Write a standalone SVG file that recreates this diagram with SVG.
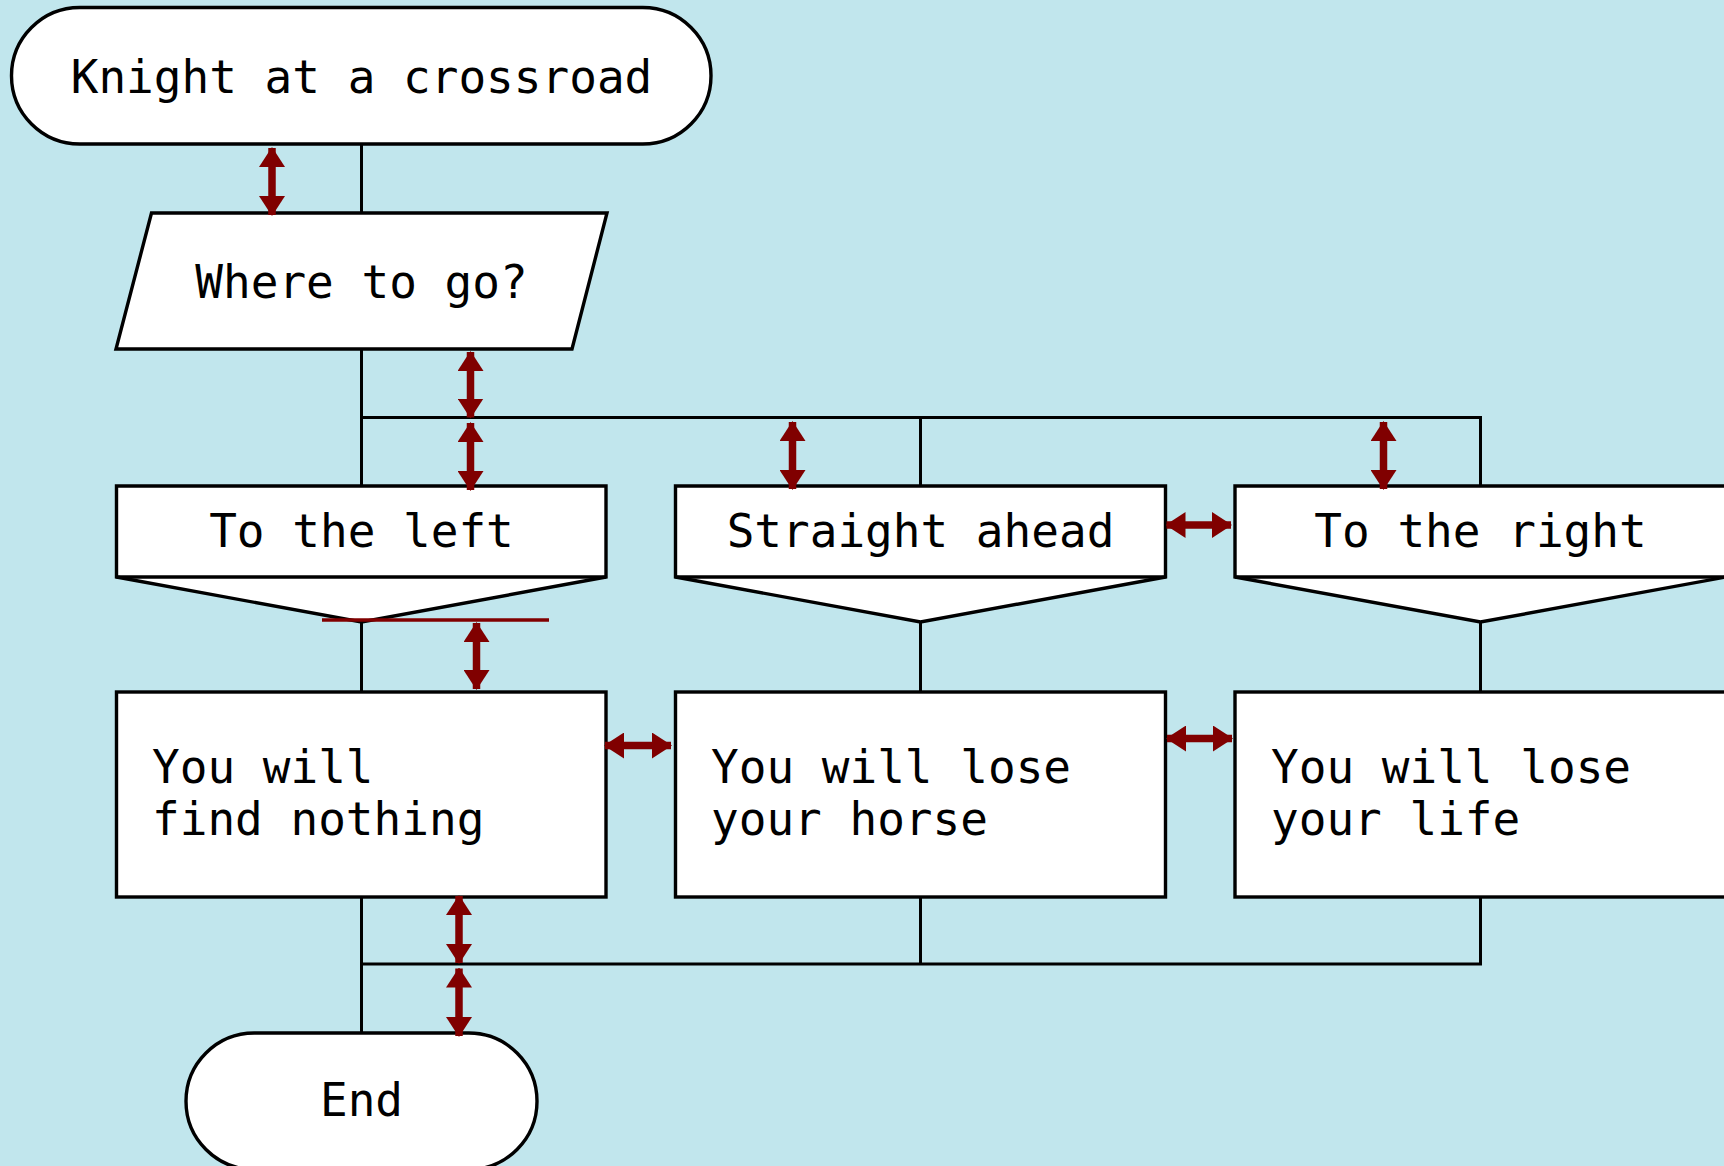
<svg xmlns="http://www.w3.org/2000/svg" width="1724" height="1166" viewBox="0 0 1724 1166">
<style>
.shape{fill:#ffffff;stroke:#000000;stroke-width:3.4;stroke-linejoin:miter}
.txt{font-family:"DejaVu Sans Mono","Liberation Mono",monospace;font-size:46px;fill:#000000}
.mid{text-anchor:middle}
.conn{fill:none;stroke:#000000;stroke-width:3}
.arr{fill:none;stroke:#800000;stroke-width:7.5;marker-start:url(#ah);marker-end:url(#ah)}
.redline{fill:none;stroke:#800000;stroke-width:3.4}
</style>
<defs>
<marker id="ah" viewBox="0 0 20 26" markerWidth="20" markerHeight="26" markerUnits="userSpaceOnUse" refX="19" refY="13" orient="auto-start-reverse">
<path d="M0,0 L20,13 L0,26 z" fill="#800000"/>
</marker>
</defs>
<rect x="0" y="0" width="1724" height="1166" fill="#c1e6ed"/>

<g id="connectors">
<path class="conn" d="M361.5,144 V213"/>
<path class="conn" d="M361.5,349 V486"/>
<path class="conn" d="M361.5,417.5 H1480.5 V486"/>
<path class="conn" d="M920.5,417.5 V486"/>
<path class="conn" d="M361.5,622 V692"/>
<path class="conn" d="M920.5,622 V692"/>
<path class="conn" d="M1480.5,622 V692"/>
<path class="conn" d="M361.5,897 V1033"/>
<path class="conn" d="M361.5,964 H1480.5 V897"/>
<path class="conn" d="M920.5,897 V964"/>
</g>

<g id="start">
<rect class="shape" x="11.5" y="7.5" width="699.5" height="136.5" rx="68.25" ry="68.25"/>
<text class="txt mid" x="361.5" y="93">Knight at a crossroad</text>
</g>

<g id="question">
<polygon class="shape" points="151.5,213 607,213 572,349 116,349"/>
<text class="txt mid" x="361.5" y="298">Where to go?</text>
</g>

<g id="case-left">
<path class="shape" d="M116.5,486 H606 V577 L361.5,622 L116.5,577 Z"/>
<path class="shape" d="M116.5,577 H606"/>
<text class="txt mid" x="361.5" y="547">To the left</text>
</g>

<g id="case-straight">
<path class="shape" d="M675.5,486 H1165.5 V577 L920.5,622 L675.5,577 Z"/>
<path class="shape" d="M675.5,577 H1165.5"/>
<text class="txt mid" x="920.5" y="547">Straight ahead</text>
</g>

<g id="case-right">
<path class="shape" d="M1235,486 H1726 V577 L1480.5,622 L1235,577 Z"/>
<path class="shape" d="M1235,577 H1726"/>
<text class="txt mid" x="1480.5" y="547">To the right</text>
</g>

<g id="action-left">
<rect class="shape" x="116.5" y="692" width="489.5" height="205"/>
<text class="txt" x="152" y="783">You will</text>
<text class="txt" x="152" y="835">find nothing</text>
</g>

<g id="action-straight">
<rect class="shape" x="675.5" y="692" width="490" height="205"/>
<text class="txt" x="711" y="783">You will lose</text>
<text class="txt" x="711" y="835">your horse</text>
</g>

<g id="action-right">
<rect class="shape" x="1235" y="692" width="491" height="205"/>
<text class="txt" x="1271" y="783">You will lose</text>
<text class="txt" x="1271" y="835">your life</text>
</g>

<g id="end">
<rect class="shape" x="186" y="1033" width="351" height="136.5" rx="68.25" ry="68.25"/>
<text class="txt mid" x="361.5" y="1116">End</text>
</g>

<g id="dimension-arrows">
<line class="arr" x1="272" y1="148" x2="272" y2="215"/>
<line class="arr" x1="470.5" y1="352" x2="470.5" y2="417.5"/>
<line class="arr" x1="470.5" y1="423" x2="470.5" y2="490"/>
<line class="arr" x1="792.5" y1="422" x2="792.5" y2="489"/>
<line class="arr" x1="1383.5" y1="422" x2="1383.5" y2="489"/>
<line class="arr" x1="1166.5" y1="525" x2="1231" y2="525"/>
<line class="arr" x1="476.5" y1="623" x2="476.5" y2="689"/>
<line class="arr" x1="605" y1="745.5" x2="671" y2="745.5"/>
<line class="arr" x1="1167" y1="738.5" x2="1232" y2="738.5"/>
<line class="arr" x1="459" y1="896" x2="459" y2="963"/>
<line class="arr" x1="459" y1="968.5" x2="459" y2="1036"/>
<path class="redline" d="M322,620 H549"/>
</g>
</svg>
